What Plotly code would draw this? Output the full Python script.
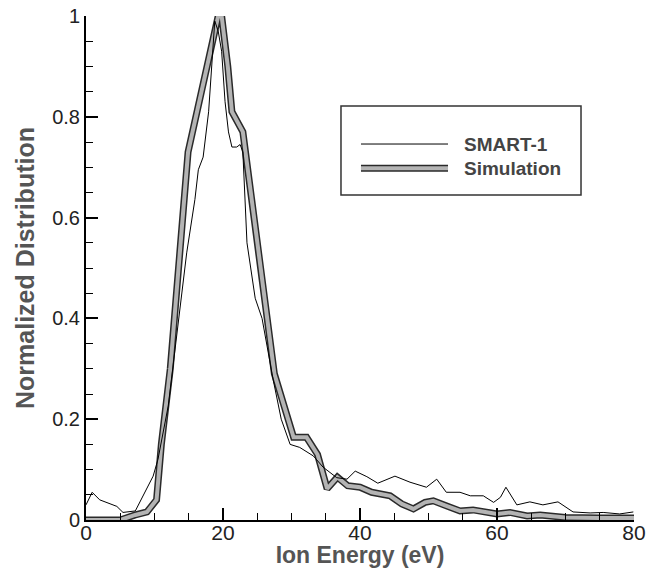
import plotly.graph_objects as go

# SMART-1 measured distribution
smart_x = [0, 0.9, 2.0, 3.5, 4.5, 5.4, 6.4, 7.2, 9.8, 10.5, 12.0, 13.5, 14.7, 15.9, 16.4, 17.1, 17.9, 18.8,
           19.3, 19.8, 20.3, 20.8, 21.3, 22.0, 22.5, 22.9, 23.5, 24.7, 25.7, 27.3, 28.5, 29.8, 31.2, 33.2,
           34.6, 36.6, 38.1, 39.3, 41.0, 42.6, 45.1, 47.3, 49.7, 51.2, 52.6, 54.6, 56.1, 58.0, 59.5, 60.5,
           61.3, 62.9, 64.8, 66.7, 68.9, 71.1, 73.6, 75.5, 77.9, 79.9]
smart_y = [0.03, 0.055, 0.04, 0.032, 0.027, 0.015, 0.017, 0.018, 0.087, 0.12, 0.226, 0.40, 0.53, 0.636, 0.695,
           0.72, 0.81, 0.99, 0.97, 0.93, 0.83, 0.77, 0.74, 0.74, 0.745, 0.73, 0.55, 0.44, 0.40, 0.28, 0.20,
           0.15, 0.144, 0.127, 0.105, 0.084, 0.081, 0.097, 0.086, 0.073, 0.087, 0.075, 0.065, 0.081, 0.055,
           0.055, 0.048, 0.048, 0.035, 0.045, 0.065, 0.03, 0.036, 0.03, 0.036, 0.016, 0.014, 0.015, 0.012,
           0.016]

# Simulation distribution
sim_x = [0, 5.0, 7.2, 8.9, 10.3, 11.0, 12.3, 14.9, 19.3, 19.8, 20.7, 21.3, 22.9, 24.2, 25.4, 27.5, 30.3,
         32.2, 33.8, 35.2, 36.7, 38.2, 40.0, 41.7, 44.4, 46.1, 47.8, 49.5, 50.7, 52.6, 54.6, 56.5, 58.5,
         60.0, 61.9, 64.4, 66.3, 70.0, 75.0, 80.0]
sim_y = [0.0, 0.0, 0.01, 0.016, 0.04, 0.15, 0.30, 0.73, 1.0, 1.0, 0.9, 0.81, 0.77, 0.64, 0.51, 0.29, 0.164,
         0.164, 0.13, 0.062, 0.085, 0.068, 0.065, 0.055, 0.048, 0.032, 0.022, 0.035, 0.038, 0.028, 0.018,
         0.02, 0.015, 0.012, 0.015, 0.008, 0.01, 0.005, 0.004, 0.004]

x_ticks = [0, 20, 40, 60, 80]
y_ticks = [0, 0.2, 0.4, 0.6, 0.8, 1]
y_tick_labels = ["0", "0.2", "0.4", "0.6", "0.8", "1"]

fig = go.Figure()
fig.add_trace(go.Scatter(x=sim_x, y=sim_y, mode="lines", line=dict(color="#2a2a2a", width=7),
                         showlegend=False, hoverinfo="skip", cliponaxis=False))
fig.add_trace(go.Scatter(x=sim_x, y=sim_y, mode="lines", line=dict(color="#b4b4b4", width=4),
                         name="Simulation", showlegend=False, cliponaxis=False))
fig.add_trace(go.Scatter(x=smart_x, y=smart_y, mode="lines", line=dict(color="black", width=1),
                         name="SMART-1", showlegend=False))

font_fam = "Liberation Sans, Arial, sans-serif"

fig.update_layout(
    width=646, height=568,
    margin=dict(l=86, r=12, t=16, b=48),
    paper_bgcolor="white", plot_bgcolor="white",
    font=dict(family=font_fam, size=20, color="#222"),
    showlegend=False,
)
fig.update_xaxes(
    range=[0, 80], tickvals=x_ticks, ticktext=[str(v) for v in x_ticks],
    showline=True, linecolor="black", linewidth=2, mirror=False,
    ticks="inside", ticklen=12, tickwidth=1.5, tickcolor="black",
    minor=dict(ticks="inside", ticklen=7, tickwidth=1, tickcolor="black", dtick=5, showgrid=False),
    showgrid=False, zeroline=False, automargin=False, ticklabelstandoff=-7,
    title=dict(text="<b>Ion Energy (eV)</b>", font=dict(size=23, color="#555"), standoff=0),
    tickfont=dict(size=21, color="#222"),
)
fig.update_yaxes(
    range=[0, 1], tickvals=y_ticks, ticktext=y_tick_labels,
    showline=True, linecolor="black", linewidth=2, mirror=False,
    ticks="inside", ticklen=12, tickwidth=1.5, tickcolor="black",
    minor=dict(ticks="inside", ticklen=7, tickwidth=1, tickcolor="black", dtick=0.05, showgrid=False),
    showgrid=False, zeroline=False, automargin=False,
    title=dict(text="<b>Normalized Distribution</b>", font=dict(size=25, color="#555"), standoff=10),
    tickfont=dict(size=20, color="#222"),
)

# Manual legend (box, sample lines, labels)
bx0, bx1, by0, by1 = 0.4653, 0.9033, 0.6448, 0.8214
fig.add_shape(type="rect", xref="paper", yref="paper", x0=bx0, x1=bx1, y0=by0, y1=by1,
              line=dict(color="#333", width=1.5), fillcolor="white", layer="above")
lx0, lx1 = 0.5018, 0.6606
fig.add_shape(type="line", xref="paper", yref="paper", x0=lx0, x1=lx1, y0=0.746, y1=0.746,
              line=dict(color="black", width=1))
fig.add_shape(type="line", xref="paper", yref="paper", x0=lx0, x1=lx1, y0=0.698, y1=0.698,
              line=dict(color="#2a2a2a", width=7))
fig.add_shape(type="line", xref="paper", yref="paper", x0=lx0, x1=lx1, y0=0.698, y1=0.698,
              line=dict(color="#b4b4b4", width=4))
for label, yy in [("SMART-1", 0.746), ("Simulation", 0.698)]:
    fig.add_annotation(xref="paper", yref="paper", x=0.686, y=yy, text="<b>" + label + "</b>",
                       showarrow=False, xanchor="left", yanchor="middle",
                       font=dict(family=font_fam, size=19, color="#444"))

fig.write_html("out.html")
